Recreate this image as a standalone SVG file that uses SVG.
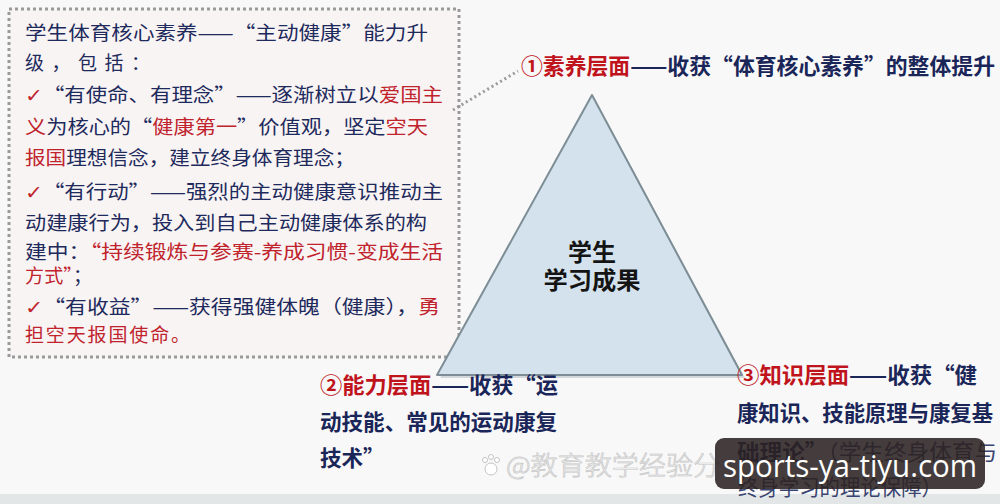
<svg xmlns="http://www.w3.org/2000/svg" width="1000" height="504" viewBox="0 0 1000 504">
<style>
.body{font-family:"Noto Sans CJK SC","Noto Sans",sans-serif;font-size:19px;fill:#1e2a5c}
.r{fill:#c0232c}
.chk{fill:#c0232c;font-family:"DejaVu Sans","Noto Sans CJK SC",sans-serif;font-weight:bold}
.lbl{font-family:"Noto Sans CJK SC","Noto Sans",sans-serif;font-size:21.5px;font-weight:bold;fill:#1a2558}
.lr{fill:#c0141c}
.light{font-family:"Noto Sans CJK SC",serif;font-weight:normal;fill:#3a4470}
.tri{font-family:"Noto Sans CJK SC","Noto Sans",sans-serif;font-size:24px;font-weight:bold;fill:#141414}
</style>
<rect width="1000" height="504" fill="#f8f8f8"/>
<rect x="0" y="494" width="1000" height="10" fill="#e3e6e6"/>

<g id="detail-box">
<rect x="9" y="9" width="450" height="348" fill="#f8f4f4" stroke="#9a9a9a" stroke-width="3" stroke-dasharray="3 3"/>
<text class="body" x="25" y="40" textLength="403" lengthAdjust="spacingAndGlyphs">学生体育核心素养——“主动健康”能力升</text>
<text class="body" x="25" y="70" textLength="125" lengthAdjust="spacing">级，包括：</text>
<text class="body" x="25" y="102" textLength="418" lengthAdjust="spacingAndGlyphs"><tspan class="chk">✓</tspan>“有使命、有理念”——逐渐树立以<tspan class="r">爱国主</tspan></text>
<text class="body" x="25" y="134" textLength="403" lengthAdjust="spacingAndGlyphs"><tspan class="r">义</tspan>为核心的“<tspan class="r">健康第一</tspan>”价值观，坚定<tspan class="r">空天</tspan></text>
<text class="body" x="25" y="165" textLength="330" lengthAdjust="spacingAndGlyphs"><tspan class="r">报国</tspan>理想信念，建立终身体育理念；</text>
<text class="body" x="25" y="199" textLength="418" lengthAdjust="spacingAndGlyphs"><tspan class="chk">✓</tspan>“有行动”——强烈的主动健康意识推动主</text>
<text class="body" x="25" y="230" textLength="402" lengthAdjust="spacingAndGlyphs">动建康行为，投入到自己主动健康体系的构</text>
<text class="body" x="25" y="259" textLength="418" lengthAdjust="spacingAndGlyphs">建中：<tspan class="r">“持续锻炼与参赛-养成习惯-变成生活</tspan></text>
<text class="body" x="25" y="283" textLength="67" lengthAdjust="spacing"><tspan class="r">方式”</tspan>；</text>
<text class="body" x="25" y="314" textLength="415" lengthAdjust="spacingAndGlyphs"><tspan class="chk">✓</tspan>“有收益”——获得强健体魄（健康），<tspan class="r">勇</tspan></text>
<text class="body" x="25" y="342" textLength="165" lengthAdjust="spacing"><tspan class="r">担空天报国使命。</tspan></text>
</g>

<g id="connectors">
<line x1="453" y1="110" x2="518" y2="71" stroke="#9a9a9a" stroke-width="3" stroke-dasharray="2 3"/>
</g>

<g id="triangle">
<polygon points="594,98 440,378 745,378" fill="#b9c2c8" opacity="0.6"/>
<polygon points="592,95 437,375 742,375" fill="#d3e2ec" stroke="#7d8d95" stroke-width="2" stroke-linejoin="round"/>
<text class="tri" x="592" y="261" text-anchor="middle">学生</text>
<text class="tri" x="592" y="289" text-anchor="middle" textLength="97" lengthAdjust="spacingAndGlyphs">学习成果</text>
</g>

<g id="label-1">
<text class="lbl" x="521" y="74" textLength="474" lengthAdjust="spacingAndGlyphs"><tspan class="lr">①素养层面</tspan>——收获“体育核心素养”的整体提升</text>
</g>

<g id="label-2">
<text class="lbl" x="320" y="393" textLength="238" lengthAdjust="spacingAndGlyphs"><tspan class="lr">②能力层面</tspan>——收获“运</text>
<text class="lbl" x="320" y="430" textLength="237" lengthAdjust="spacingAndGlyphs">动技能、常见的运动康复</text>
<text class="lbl" x="320" y="466">技术”</text>
</g>

<g id="label-3">
<text class="lbl" x="737" y="383" textLength="240" lengthAdjust="spacingAndGlyphs"><tspan class="lr">③知识层面</tspan>——收获“健</text>
<text class="lbl" x="737" y="421" textLength="256" lengthAdjust="spacingAndGlyphs">康知识、技能原理与康复基</text>
<text class="lbl" x="737" y="460" textLength="260" lengthAdjust="spacingAndGlyphs">础理论”<tspan class="light">（学生终身体育与</tspan></text>
<text class="lbl" x="738" y="495" textLength="204" lengthAdjust="spacingAndGlyphs"><tspan class="light">终身学习的理论保障）</tspan></text>
</g>

<g id="watermark">
<g fill="#ffffff" stroke="#c4c4c4" stroke-width="1">
<circle cx="491" cy="469" r="6"/>
<circle cx="485" cy="460" r="2.5"/>
<circle cx="491" cy="457" r="2.5"/>
<circle cx="497" cy="460" r="2.5"/>
</g>
<text x="506" y="475" font-family="'Noto Sans CJK SC',sans-serif" font-size="26" font-weight="300" fill="#fbfbfb" stroke="#c6c6c6" stroke-width="0.7" textLength="214" lengthAdjust="spacingAndGlyphs">@教育教学经验分</text>
<rect x="715" y="438" width="270" height="51" rx="9" fill="#2b2222" opacity="0.88"/>
<text x="850" y="477" text-anchor="middle" font-family="'Open Sans','Noto Sans',sans-serif" font-size="31" fill="#ffffff" textLength="254" lengthAdjust="spacingAndGlyphs">sports-ya-tiyu.com</text>
</g>
</svg>
